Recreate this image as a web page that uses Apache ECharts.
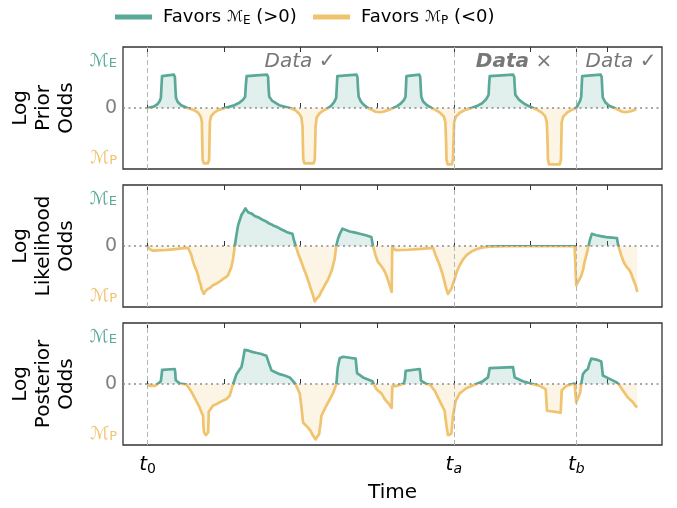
<!DOCTYPE html>
<html>
<head>
<meta charset="utf-8">
<script src="https://cdn.jsdelivr.net/npm/echarts@6/dist/echarts.min.js"></script>
<style>
html,body{margin:0;padding:0;background:#fff;}
#chart{width:677px;height:508px;}
</style>
</head>
<body>
<div id="chart"></div>
<script>
// ---- data (time units: t0 = 0, one minor tick = 10) ----
const xTickValues = [0, 10, 20, 30, 40, 50, 56, 60];
const xLabelValues = [0, 40, 56];
const xLabelSubs = ['0', 'a', 'b'];
const yTickValues = [-1, 0, 1];
const panelNames = ['Log\nPrior\nOdds', 'Log\nLikelihood\nOdds', 'Log\nPosterior\nOdds'];
const legendNames = ['Favors ME (>0)', 'Favors MP (<0)'];
const annotations = ['Data ✓', 'Data ×', 'Data ✓'];

const prior = [
[0,0],[0.8,0.03],[1.3,0.08],[1.6,0.15],[1.75,0.22],[1.82,0.45],[1.9,0.68],[2.05,0.71],[3.45,0.71],[3.58,0.66],[3.65,0.4],[3.72,0.22],[3.95,0.13],[4.4,0.06],[5.2,0],
[6.0,-0.04],[6.6,-0.10],[6.95,-0.18],[7.1,-0.3],[7.15,-0.7],[7.2,-1.1],[7.35,-1.18],[7.9,-1.18],[8.05,-1.1],[8.1,-0.7],[8.15,-0.3],[8.3,-0.18],[8.7,-0.10],[9.3,-0.04],[10.1,0],
[11.2,0.05],[12.0,0.11],[12.5,0.18],[12.75,0.24],[12.85,0.5],[12.95,0.68],[13.1,0.71],[15.6,0.71],[15.75,0.66],[15.82,0.4],[15.9,0.24],[16.3,0.15],[17.2,0.06],[18.6,0],
[19.3,-0.05],[19.8,-0.12],[20.1,-0.2],[20.25,-0.4],[20.3,-0.8],[20.35,-1.1],[20.5,-1.18],[21.7,-1.18],[21.85,-1.1],[21.9,-0.8],[21.95,-0.4],[22.1,-0.2],[22.5,-0.11],[23.0,-0.05],[23.6,0],
[24.0,0.05],[24.4,0.13],[24.65,0.22],[24.72,0.45],[24.8,0.68],[24.95,0.71],[27.3,0.71],[27.42,0.66],[27.5,0.4],[27.58,0.24],[27.9,0.13],[28.3,0.06],[28.8,0],
[29.3,-0.04],[29.8,-0.08],[30.3,-0.09],[30.8,-0.08],[31.5,-0.04],[32.1,0],
[32.6,0.04],[33.1,0.1],[33.5,0.17],[33.7,0.24],[33.76,0.45],[33.82,0.68],[33.95,0.71],[35.5,0.71],[35.62,0.66],[35.7,0.4],[35.76,0.24],[36.0,0.14],[36.5,0.06],[37.1,0],
[37.6,-0.04],[38.2,-0.10],[38.7,-0.18],[38.9,-0.3],[39.0,-0.7],[39.05,-1.1],[39.2,-1.2],[39.75,-1.2],[39.9,-1.1],[39.97,-0.7],[40.05,-0.3],[40.3,-0.18],[40.8,-0.10],[41.5,-0.04],[42.3,0],
[43.0,0.04],[43.7,0.1],[44.2,0.18],[44.55,0.28],[44.62,0.5],[44.7,0.68],[44.85,0.71],[47.75,0.71],[47.9,0.66],[47.97,0.45],[48.05,0.28],[48.5,0.18],[49.3,0.08],[50.35,0],
[50.9,-0.04],[51.5,-0.1],[51.95,-0.18],[52.15,-0.3],[52.25,-0.7],[52.3,-1.1],[52.45,-1.2],[53.85,-1.2],[54.0,-1.1],[54.05,-0.7],[54.1,-0.3],[54.3,-0.18],[54.8,-0.1],[55.4,-0.04],[56.0,0],
[56.2,0.06],[56.5,0.15],[56.65,0.24],[56.72,0.5],[56.78,0.68],[56.9,0.71],[59.2,0.71],[59.32,0.66],[59.4,0.4],[59.47,0.22],[59.8,0.12],[60.3,0.05],[61.0,0],
[61.5,-0.04],[62.0,-0.08],[62.5,-0.09],[63.1,-0.07],[63.6,-0.04],[63.85,-0.03]
];

const likelihood = [
[0.0,0.0],[0.3,-0.07],[0.74,-0.10],[2.0,-0.09],[3.35,-0.07],[4.5,-0.05],[5.3,-0.04],[5.43,-0.05],
[5.7,-0.18],[5.96,-0.34],[6.2,-0.45],[6.4,-0.52],[6.61,-0.63],[6.8,-0.76],[6.95,-0.82],[7.05,-0.91],[7.2,-0.97],[7.35,-1.02],[7.5,-0.98],[7.65,-0.95],[7.92,-0.91],[8.2,-0.89],[8.5,-0.84],[8.7,-0.83],[9.01,-0.80],[9.3,-0.77],[9.6,-0.74],[9.88,-0.70],[10.2,-0.67],[10.5,-0.63],[10.74,-0.59],[10.95,-0.45],[11.18,-0.27],[11.40,0.0],
[11.6,0.22],[11.83,0.44],[12.05,0.55],[12.27,0.66],[12.5,0.72],[12.79,0.80],[12.95,0.76],[13.14,0.72],[13.4,0.70],[13.7,0.68],[14.0,0.64],[14.23,0.62],[14.6,0.60],[15.0,0.56],[15.3,0.54],[15.53,0.51],[15.9,0.48],[16.2,0.46],[16.5,0.43],[16.84,0.41],[17.2,0.38],[17.5,0.35],[17.8,0.33],[18.15,0.30],[18.5,0.28],[18.93,0.26],[19.1,0.14],[19.36,0.0],
[19.7,-0.17],[20.10,-0.34],[20.4,-0.48],[20.76,-0.63],[20.95,-0.72],[21.19,-0.84],[21.4,-0.95],[21.62,-1.05],[21.84,-1.18],[22.1,-1.12],[22.3,-1.1],[22.49,-1.05],[22.7,-0.97],[22.93,-0.91],[23.2,-0.82],[23.5,-0.74],[23.8,-0.63],[24.1,-0.50],[24.45,-0.27],[24.65,0.0],
[24.89,0.16],[25.1,0.25],[25.46,0.37],[25.9,0.34],[26.41,0.31],[27.0,0.29],[27.72,0.26],[28.5,0.23],[29.24,0.19],[29.45,0.0],
[29.75,-0.18],[30.10,-0.34],[30.4,-0.40],[30.76,-0.48],[31.0,-0.55],[31.20,-0.63],[31.4,-0.72],[31.63,-0.84],[31.89,-0.98],[31.97,-0.01],[32.2,-0.07],[32.51,-0.09],[34.0,-0.08],[35.8,-0.06],[37.29,-0.04],
[37.64,-0.20],[38.16,-0.41],[38.5,-0.58],[38.81,-0.77],[39.0,-0.90],[39.24,-1.02],[39.45,-0.98],[39.69,-0.91],[40.12,-0.70],[40.4,-0.55],[40.77,-0.41],[41.2,-0.29],[41.64,-0.20],[42.3,-0.12],[42.95,-0.07],[43.8,-0.03],[44.69,-0.015],[46.0,-0.01],[47.3,-0.005],[50.0,-0.005],[53.0,-0.005],[55.78,-0.005],
[56.0,-0.84],[56.22,-0.77],[56.45,-0.70],[56.66,-0.63],[56.9,-0.50],[57.09,-0.34],[57.35,-0.18],[57.61,0.0],[57.8,0.14],[58.04,0.26],[58.3,0.25],[58.62,0.23],[59.2,0.21],[59.92,0.19],[60.6,0.18],[61.31,0.17],[61.49,0.0],
[61.7,-0.10],[61.88,-0.20],[62.1,-0.30],[62.32,-0.38],[62.6,-0.45],[62.97,-0.52],[63.2,-0.60],[63.41,-0.70],[63.6,-0.78],[63.76,-0.84],[63.97,-0.98]
];

const posterior = [
[0,0],[0.3,-0.04],[0.95,-0.04],[1.39,0.01],[1.74,0.06],[1.85,0.2],[1.91,0.30],[2.04,0.32],[3.56,0.32],[3.62,0.25],[3.69,0.08],[4.22,0.01],[5.09,-0.01],[5.52,-0.11],[5.85,-0.2],[6.17,-0.30],[6.5,-0.40],[6.80,-0.50],[7.05,-0.6],[7.26,-0.68],[7.3,-0.9],[7.39,-1.03],[7.61,-1.09],[7.92,-1.03],[7.97,-0.8],[8.0,-0.59],[8.3,-0.52],[8.57,-0.46],[9.0,-0.43],[9.44,-0.39],[9.9,-0.35],[10.31,-0.32],[10.74,-0.25],[10.95,-0.13],[11.18,0],
[11.4,0.10],[11.62,0.21],[11.95,0.29],[12.27,0.36],[12.45,0.5],[12.70,0.73],[13.2,0.71],[13.79,0.68],[14.3,0.66],[14.88,0.64],[15.2,0.62],[15.53,0.60],[15.7,0.52],[15.88,0.43],[16.19,0.29],[16.7,0.25],[17.27,0.21],[17.9,0.18],[18.58,0.14],[19.01,0.06],[19.36,-0.01],
[19.88,-0.20],[20.10,-0.49],[20.32,-0.82],[20.6,-0.87],[20.97,-0.93],[21.3,-1.0],[21.62,-1.10],[21.97,-1.18],[22.2,-1.12],[22.41,-1.07],[22.6,-0.85],[22.71,-0.68],[23.0,-0.58],[23.37,-0.46],[23.8,-0.33],[24.23,-0.20],[24.45,-0.1],[24.67,0],
[24.85,0.35],[25.10,0.55],[25.54,0.58],[26.41,0.56],[27.19,0.54],[27.37,0.23],[28.15,0.14],[29.37,0.06],[29.54,0],
[29.90,-0.11],[30.55,-0.20],[30.98,-0.32],[31.54,-0.43],[31.89,-0.51],[31.98,-0.05],[32.51,-0.04],[33.16,-0.01],[33.46,0.01],[33.62,0.1],[33.72,0.28],[33.89,0.32],[35.55,0.32],[35.65,0.2],[35.72,0.07],[36.42,0],[36.85,-0.01],[37.51,-0.14],[38.16,-0.36],[38.81,-0.57],[39.03,-0.86],[39.24,-1.09],[39.68,-1.06],[39.90,-0.68],[40.25,-0.36],[40.77,-0.20],[41.64,-0.09],[42.95,0],[43.81,0.06],[44.47,0.14],[44.6,0.25],[44.69,0.34],[44.91,0.36],[47.74,0.36],[47.85,0.25],[47.96,0.14],[49.04,0.06],[50.27,0],[51.23,-0.04],[52.01,-0.11],[52.18,-0.57],[52.31,-0.61],[53.97,-0.61],[54.10,-0.14],[54.70,-0.04],[55.78,0.01],[55.95,0.02],[56.0,-0.39],[56.22,-0.36],[56.52,-0.18],[56.65,0],[56.87,0.21],[57.2,0.28],[57.52,0.32],[57.75,0.45],[57.96,0.54],[58.62,0.52],[59.27,0.48],[59.48,0.18],[60.35,0.11],[61.22,0.04],[61.57,-0.01],[62.09,-0.14],[62.75,-0.29],[63.0,-0.33],[63.40,-0.39],[63.7,-0.46],[63.97,-0.50]
];

// ---- styling ----
const TEAL = '#5aa998';
const GOLD = '#f0c36e';
const FONT = 'DejaVu Sans';
const gridTops = [47, 185, 323];
const gridH = 122;
const XMIN = -3.2, XMAX = 67.2;
const panels = [prior, likelihood, posterior];

const chart = echarts.init(document.getElementById('chart'), null, {renderer: 'canvas'});

const grids = gridTops.map(t => ({left: 123, width: 539, top: t, height: gridH,
  show: true, borderColor: '#333', borderWidth: 1.3, backgroundColor: 'transparent'}));

const xAxes = [];
gridTops.forEach((t, i) => {
  ['bottom', 'top'].forEach(pos => {
    const isLabelled = (i === 2 && pos === 'bottom');
    xAxes.push({
      type: 'value', gridIndex: i, position: pos, min: XMIN, max: XMAX,
      axisLine: {show: false},
      splitLine: {show: false},
      axisTick: {show: true, inside: true, length: 5, customValues: xTickValues,
        lineStyle: {color: '#333', width: 1}},
      axisLabel: isLabelled ? {
        show: true, customValues: xLabelValues, margin: 9,
        formatter: v => {
          let k = 0, best = 1e9;
          xLabelValues.forEach((lv, j) => { if (Math.abs(lv - v) < best) { best = Math.abs(lv - v); k = j; } });
          const sub = xLabelSubs[k];
          return '{t|t}' + (sub === '0' ? '{s|0}' : '{si|' + sub + '}');
        },
        rich: {
          t: {fontFamily: FONT, fontStyle: 'italic', fontSize: 20, color: '#000', lineHeight: 22},
          s: {fontFamily: FONT, fontSize: 14, color: '#000', verticalAlign: 'bottom', lineHeight: 22, padding: [8, 0, 0, 0]},
          si: {fontFamily: FONT, fontStyle: 'italic', fontSize: 14, color: '#000', verticalAlign: 'bottom', lineHeight: 22, padding: [8, 0, 0, 0]}
        }
      } : {show: false},
      name: isLabelled ? 'Time' : '',
      nameLocation: 'middle', nameGap: 38,
      nameTextStyle: {fontFamily: FONT, fontSize: 20, color: '#000'}
    });
  });
});

const yAxes = gridTops.map((t, i) => ({
  type: 'value', gridIndex: i, min: -1.3, max: 1.3,
  axisLine: {show: false}, axisTick: {show: false}, splitLine: {show: false},
  axisLabel: {
    show: true, customValues: yTickValues, margin: 6,
    formatter: v => v > 0.5 ? '{me|ℳ}{mes|E}' : (v < -0.5 ? '{mp|ℳ}{mps|P}' : '{z|0}'),
    rich: {
      me: {fontFamily: FONT, fontSize: 18, color: TEAL},
      mes: {fontFamily: FONT, fontSize: 13, color: TEAL, padding: [5, 0, 0, 0]},
      mp: {fontFamily: FONT, fontSize: 18, color: GOLD, padding: [6, 0, 0, 0]},
      mps: {fontFamily: FONT, fontSize: 13, color: GOLD, padding: [11, 0, 0, 0]},
      z: {fontFamily: FONT, fontSize: 19, color: '#808080'}
    }
  },
  name: panelNames[i], nameLocation: 'middle', nameRotate: 90, nameGap: 41,
  nameTextStyle: {fontFamily: FONT, fontSize: 20, color: '#000', lineHeight: 23, align: 'center'}
}));

const series = panels.map((d, i) => ({
  type: 'line', xAxisIndex: i * 2, yAxisIndex: i, data: d,
  showSymbol: false, symbol: 'none', animation: false,
  lineStyle: {width: 2.7, join: 'round'},
  areaStyle: {opacity: 0.18},
  markLine: {
    silent: true, symbol: 'none', animation: false,
    label: {show: false},
    data: [
      {xAxis: xLabelValues[0], lineStyle: {color: '#b5b5b5', type: [5, 3], width: 1}},
      {xAxis: xLabelValues[1], lineStyle: {color: '#b5b5b5', type: [5, 3], width: 1}},
      {xAxis: xLabelValues[2], lineStyle: {color: '#b5b5b5', type: [5, 3], width: 1}},
      {yAxis: 0, lineStyle: {color: '#8a8a8a', type: [2, 3.5], width: 1.6}}
    ]
  }
}));

legendNames.forEach((n, k) => {
  series.push({type: 'line', name: n, xAxisIndex: 0, yAxisIndex: 0, data: [],
    color: k === 0 ? TEAL : GOLD, showSymbol: false, animation: false});
});

const legendRich = {
  a: {fontFamily: FONT, fontSize: 18, color: '#000'},
  a0: {fontFamily: FONT, fontSize: 18, color: '#000', padding: [0, 0, 0, 6]},
  m: {fontFamily: FONT, fontSize: 15, color: '#000'},
  s: {fontFamily: FONT, fontSize: 12, color: '#000', padding: [7, 0, 0, 0]}
};
const legendBase = {
  top: 3, icon: 'rect', itemWidth: 37, itemHeight: 5,
  formatter: name => name === legendNames[0]
    ? '{a0|Favors }{m|ℳ}{s|E}{a| (>0)}'
    : '{a0|Favors }{m|ℳ}{s|P}{a| (<0)}',
  textStyle: {fontFamily: FONT, fontSize: 18, color: '#000', rich: legendRich}
};

const option = {
  backgroundColor: '#fff',
  animation: false,
  grid: grids,
  xAxis: xAxes,
  yAxis: yAxes,
  visualMap: {
    type: 'piecewise', show: false, dimension: 1, seriesIndex: [0, 1, 2],
    pieces: [{gt: -10, lte: 0, color: GOLD}, {gt: 0, lte: 10, color: TEAL}],
    outOfRange: {color: '#999'}
  },
  legend: [
    Object.assign({}, legendBase, {data: [legendNames[0]], left: 110}),
    Object.assign({}, legendBase, {data: [legendNames[1]], left: 308})
  ],
  graphic: [
    {type: 'text', x: 300, y: 62, silent: true,
      style: {text: annotations[0], font: 'italic 20px "DejaVu Sans"', fill: '#777', align: 'center', verticalAlign: 'middle'}},
    {type: 'text', x: 514, y: 62, silent: true,
      style: {text: '{b|Data}{n| ×}', align: 'center', verticalAlign: 'middle', fill: '#777',
        rich: {b: {fontFamily: FONT, fontStyle: 'italic', fontWeight: 'bold', fontSize: 20, fill: '#777'},
               n: {fontFamily: FONT, fontSize: 20, fill: '#777'}}}},
    {type: 'text', x: 621, y: 62, silent: true,
      style: {text: annotations[2], font: 'italic 20px "DejaVu Sans"', fill: '#777', align: 'center', verticalAlign: 'middle'}}
  ],
  series: series
};
chart.setOption(option);
</script>
</body>
</html>
